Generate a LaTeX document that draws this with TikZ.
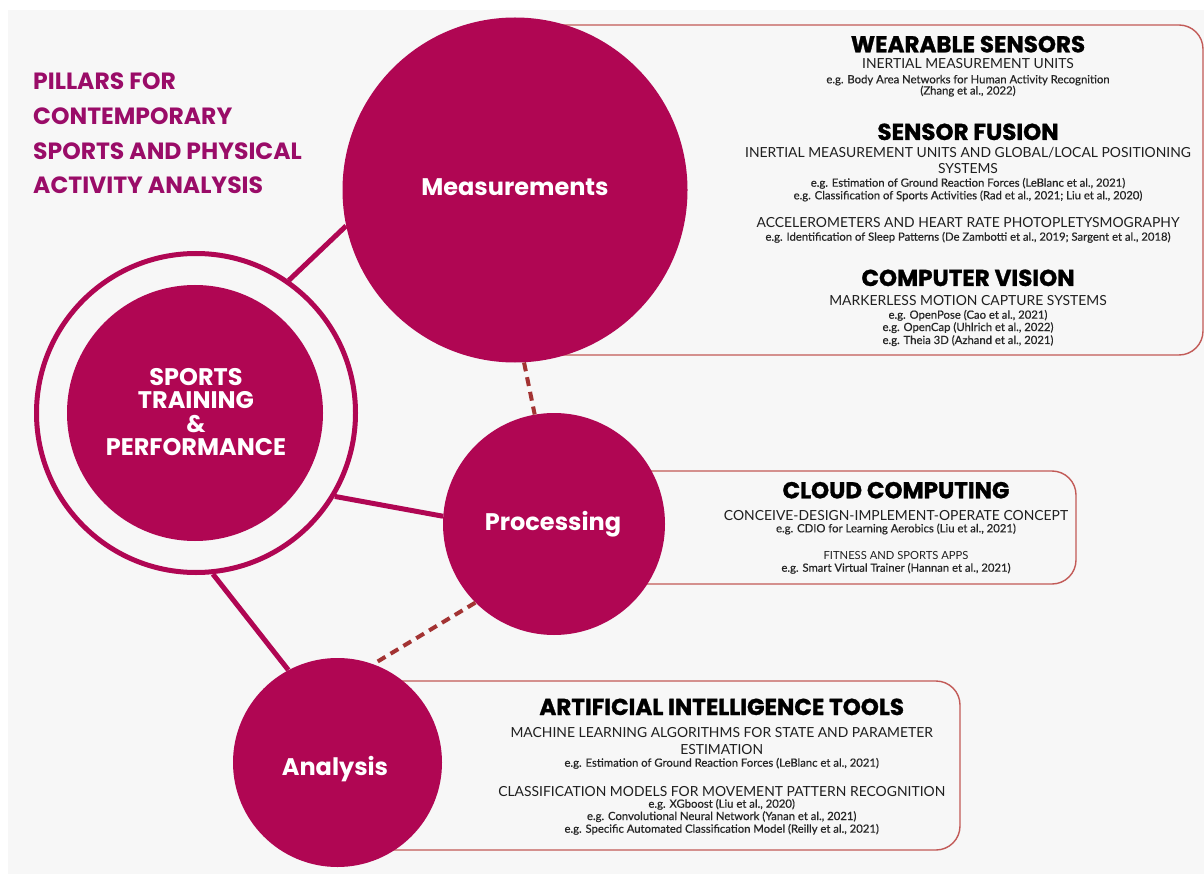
\documentclass[tikz,border=0pt]{standalone}
\usepackage{fontspec}
\setmainfont{Lato}
\newfontfamily\hf{Poppins}
\newfontfamily\hfh{Poppins}[BoldFeatures={FakeBold=1.2}]
\newfontfamily\egf{Lato}[FakeBold=0.6]
\definecolor{mag}{HTML}{B00653}
\definecolor{ttl}{HTML}{9A0C68}
\definecolor{dsh}{HTML}{A33333}
\definecolor{bxl}{HTML}{C25A57}
\definecolor{bg}{HTML}{F7F7F7}
\begin{document}
\begin{tikzpicture}[x=1pt,y=-1pt,
  disc/.style={circle,fill=mag,draw=none,inner sep=0},
  ring/.style={circle,draw=mag,line width=5pt,inner sep=0},
  solidlink/.style={draw=mag,line width=5pt},
  dashlink/.style={draw=dsh,line width=4pt,dash pattern=on 9pt off 6pt},
  infobox/.style={draw=bxl,line width=1.4pt,fill=bg,rounded corners=24pt},
  lab/.style={font=\hf\bfseries\fontsize{24}{24}\selectfont,text=white,anchor=base,inner sep=0,align=center},
  ttlline/.style={font=\hf\bfseries\fontsize{23.5}{23.5}\selectfont,text=ttl,anchor=base west,inner sep=0},
  hd/.style={font=\hfh\bfseries\fontsize{23}{23}\selectfont,text=black,anchor=base,inner sep=0},
  sub/.style={font=\fontsize{13.9}{13.9}\selectfont,text=black!88,anchor=base,inner sep=0},
  subs/.style={font=\fontsize{11.2}{11.2}\selectfont,text=black!88,anchor=base,inner sep=0},
  eg/.style={font=\egf\fontsize{11.3}{11.3}\selectfont,text=black!85,anchor=base,inner sep=0}]
\useasboundingbox (0,0) rectangle (1204,874);
\fill[white] (0,0) rectangle (1204,874);
\fill[bg] (8,10) rectangle (1204,874);

% info boxes
\path[infobox] (515,25) rectangle (1203,355);
\path[infobox] (554,471) rectangle (1076,584);
\path[infobox] (337,681) rectangle (960,850);

% circles
\node[disc,minimum size=345pt] (meas) at (515,190) {};
\node[disc,minimum size=222pt] (proc) at (554,524) {};
\node[disc,minimum size=209pt] (anal) at (337.5,762.5) {};
\node[ring,minimum size=319pt] (ring) at (196,413) {};
\node[disc,minimum size=256pt] (sport) at (195,413) {};

% connectors
\path[solidlink] (ring.55) -- (meas.192);
\path[solidlink] (ring.-31.5) -- (proc.176.4);
\path[solidlink] (ring.-84) -- (anal.118);
\path[dashlink] (meas.-87.4) -- (proc.100.7);
\path[dashlink] (proc.-135) -- (anal.70);

% circle labels
\node[lab] (tmeas) at (515,196) {Measurements};
\node[lab] (tproc) at (553,530) {Processing};
\node[lab] (tanal) at (335,775) {Analysis};
\node[lab] (ts1) at (196,385) {SPORTS};
\node[lab] (ts2) at (196,408.3) {TRAINING};
\node[lab] (ts3) at (196,432) {\&};
\node[lab] (ts4) at (196,455) {PERFORMANCE};

% title
\node[ttlline] (t1) at (33,90) {PILLARS FOR};
\node[ttlline] (t2) at (33,125) {CONTEMPORARY};
\node[ttlline] (t3) at (33,160) {SPORTS AND PHYSICAL};
\node[ttlline] (t4) at (33,194) {ACTIVITY ANALYSIS};

% top box text
\def\cx{968}
\node[hd] (w1) at (\cx,52.3) {WEARABLE SENSORS};
\node[sub] (w2) at (\cx,69) {INERTIAL MEASUREMENT UNITS};
\node[eg] (w3) at (\cx,83.3) {e.g. Body Area Networks for Human Activity Recognition};
\node[eg] (w4) at (\cx,94.5) {(Zhang et al., 2022)};
\node[hd] (f1) at (\cx,140) {SENSOR FUSION};
\node[sub] (f2) at (\cx,157.7) {INERTIAL MEASUREMENT UNITS AND GLOBAL/LOCAL POSITIONING};
\node[sub] (f3) at (\cx,174) {SYSTEMS};
\node[eg] (f4) at (\cx,186.7) {e.g. Estimation of Ground Reaction Forces (LeBlanc et al., 2021)};
\node[eg] (f5) at (\cx,199.3) {e.g. Classification of Sports Activities (Rad et al., 2021; Liu et al., 2020)};
\node[sub] (f6) at (\cx,227.7) {ACCELEROMETERS AND HEART RATE PHOTOPLETYSMOGRAPHY};
\node[eg] (f7) at (\cx,240.7) {e.g. Identification of Sleep Patterns (De Zambotti et al., 2019; Sargent et al., 2018)};
\node[hd] (c1) at (\cx,286) {COMPUTER VISION};
\node[sub] (c2) at (\cx,305.7) {MARKERLESS MOTION CAPTURE SYSTEMS};
\node[eg] (c3) at (\cx,318.7) {e.g. OpenPose (Cao et al., 2021)};
\node[eg] (c4) at (\cx,331) {e.g. OpenCap (Uhlrich et al., 2022)};
\node[eg] (c5) at (\cx,344) {e.g. Theia 3D (Azhand et al., 2021)};

% middle box text
\def\mx{896}
\node[hd] (p1) at (\mx,498.3) {CLOUD COMPUTING};
\node[sub] (p2) at (\mx,520) {CONCEIVE-DESIGN-IMPLEMENT-OPERATE CONCEPT};
\node[eg] (p3) at (\mx,532.3) {e.g. CDIO for Learning Aerobics (Liu et al., 2021)};
\node[subs] (p4) at (\mx,559.3) {FITNESS AND SPORTS APPS};
\node[eg] (p5) at (\mx,571.7) {e.g. Smart Virtual Trainer (Hannan et al., 2021)};

% bottom box text
\def\bx{721.7}
\node[hd] (a1) at (\bx,715) {ARTIFICIAL INTELLIGENCE TOOLS};
\node[sub] (a2) at (\bx,737.7) {MACHINE LEARNING ALGORITHMS FOR STATE AND PARAMETER};
\node[sub] (a3) at (\bx,754) {ESTIMATION};
\node[eg] (a4) at (\bx,766.7) {e.g. Estimation of Ground Reaction Forces (LeBlanc et al., 2021)};
\node[sub] (a5) at (\bx,796) {CLASSIFICATION MODELS FOR MOVEMENT PATTERN RECOGNITION};
\node[eg] (a6) at (\bx,807.7) {e.g. XGboost (Liu et al., 2020)};
\node[eg] (a7) at (\bx,820) {e.g. Convolutional Neural Network (Yanan et al., 2021)};
\node[eg] (a8) at (\bx,832.7) {e.g. Specific Automated Classification Model (Reilly et al., 2021)};
\end{tikzpicture}
\end{document}
